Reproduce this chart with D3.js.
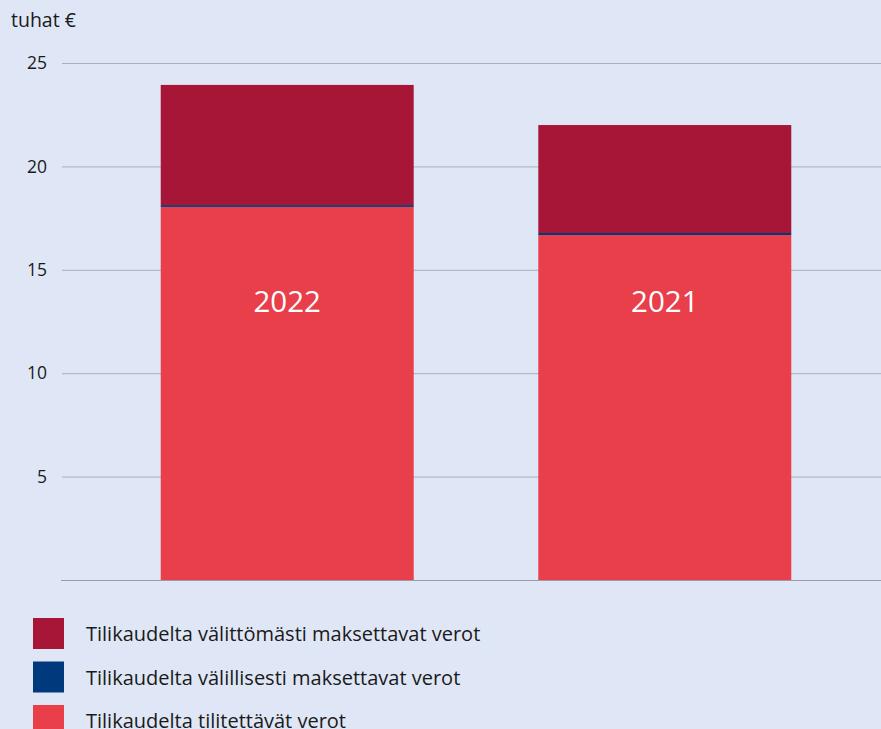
<!DOCTYPE html>
<html>
<head>
<meta charset="utf-8">
<script src="https://cdn.jsdelivr.net/npm/d3@7"></script>
<style>
  html, body { margin: 0; padding: 0; background: #dfe6f5; }
  svg { display: block; font-family: "Open Sans", "Noto Sans", sans-serif; }
</style>
</head>
<body>
<script>
var width = 881,
    height = 729;

// data
var years = ["2022", "2021"];
var tilitettavat = [18.04, 16.68];
var valillisesti = [0.09, 0.1];
var valittomasti = [5.81, 5.22];
var yTicks = [5, 10, 15, 20, 25];
var seriesNames = [
  "Tilikaudelta välittömästi maksettavat verot",
  "Tilikaudelta välillisesti maksettavat verot",
  "Tilikaudelta tilitettävät verot"
];
var seriesColors = ["#a71537", "#003a7d", "#e83f4b"];

var svg = d3.select("body").append("svg")
    .attr("width", width)
    .attr("height", height);

var x = d3.scaleBand()
    .domain(years)
    .range([72, 880])
    .paddingInner(0.33)
    .paddingOuter(0.235);

var y = d3.scaleLinear()
    .domain([0, 25])
    .range([580, 63]);

// gridlines
svg.append("g")
  .selectAll("line")
  .data(yTicks)
  .enter().append("line")
    .attr("x1", 62)
    .attr("x2", width)
    .attr("y1", function (d) { return y(d) + 0.5 })
    .attr("y2", function (d) { return y(d) + 0.5 })
    .attr("stroke", "#abafb5")
    .attr("stroke-width", 1);

svg.append("g")
  .selectAll("text")
  .data(yTicks)
  .enter().append("text")
    .attr("x", 47)
    .attr("y", function (d) { return y(d) })
    .attr("dy", "0.35em")
    .attr("text-anchor", "end")
    .attr("font-size", 17.5)
    .attr("fill", "#1a1a1a")
    .text(function (d) { return d });

svg.append("text")
    .attr("x", 11)
    .attr("y", 27)
    .attr("font-size", 19.5)
    .attr("fill", "#1a1a1a")
    .text("tuhat €");

// stacked bars
var rows = years.map(function (yr, i) {
  return { year: yr, tilitettavat: tilitettavat[i], valillisesti: valillisesti[i], valittomasti: valittomasti[i] };
});
var keys = ["tilitettavat", "valillisesti", "valittomasti"];
var keyColor = { tilitettavat: seriesColors[2], valillisesti: seriesColors[1], valittomasti: seriesColors[0] };
var stacked = d3.stack().keys(keys)(rows);

svg.append("g")
  .selectAll("g")
  .data(stacked)
  .enter().append("g")
    .attr("fill", function (s) { return keyColor[s.key] })
  .selectAll("rect")
  .data(function (s) { return s })
  .enter().append("rect")
    .attr("x", function (d) { return x(d.data.year) })
    .attr("width", x.bandwidth())
    .attr("y", function (d) { return y(d[1]) })
    .attr("height", function (d) { return y(d[0]) - y(d[1]) });

// baseline
svg.append("line")
    .attr("x1", 61)
    .attr("x2", width)
    .attr("y1", y(0) + 0.5)
    .attr("y2", y(0) + 0.5)
    .attr("stroke", "#9a9ea4");

// year labels inside bars
var labelValue = 13.45;
svg.append("g")
  .selectAll("text")
  .data(years)
  .enter().append("text")
    .attr("x", function (d) { return x(d) + x.bandwidth() / 2 })
    .attr("y", y(labelValue))
    .attr("dy", "0.35em")
    .attr("text-anchor", "middle")
    .attr("font-size", 29.5)
    .attr("fill", "#ffffff")
    .text(function (d) { return d });

// legend
var legend = svg.append("g")
  .selectAll("g")
  .data(seriesNames)
  .enter().append("g")
    .attr("transform", function (d, i) { return "translate(33," + (618 + i * 43.5) + ")" });

legend.append("rect")
    .attr("width", 31)
    .attr("height", 31)
    .attr("fill", function (d, i) { return seriesColors[i] });

legend.append("text")
    .attr("x", 53)
    .attr("y", 16)
    .attr("dy", "0.35em")
    .attr("font-size", 20)
    .attr("fill", "#1a1a1a")
    .text(function (d) { return d });
</script>
</body>
</html>
